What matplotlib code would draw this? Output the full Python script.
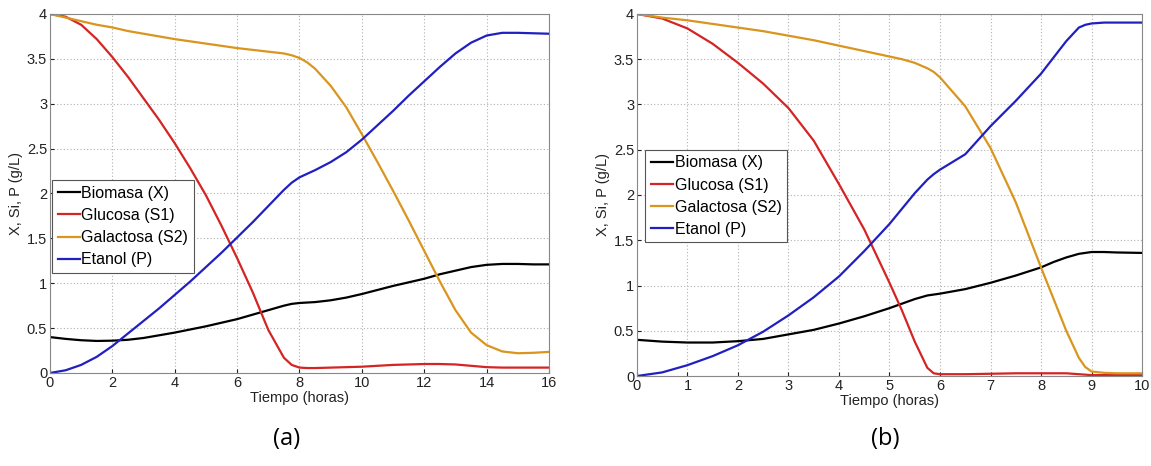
import matplotlib
matplotlib.use("Agg")
import matplotlib.pyplot as plt

# ---------------- data (a) ----------------
t_a = [0, 0.5, 1, 1.5, 2, 2.5, 3, 3.5, 4, 4.5, 5, 5.5, 6, 6.5, 7, 7.5, 7.75, 8,
       8.25, 8.5, 9, 9.5, 10, 10.5, 11, 11.5, 12, 12.5, 13, 13.5, 14, 14.5, 15,
       15.5, 16]
X_a = [0.40, 0.38, 0.365, 0.357, 0.36, 0.37, 0.39, 0.42, 0.45, 0.485, 0.52, 0.56,
       0.60, 0.65, 0.70, 0.75, 0.77, 0.78, 0.785, 0.79, 0.81, 0.84, 0.88, 0.925,
       0.97, 1.01, 1.05, 1.10, 1.14, 1.18, 1.205, 1.215, 1.215, 1.21, 1.21]
S1_a = [4.0, 3.97, 3.88, 3.72, 3.52, 3.30, 3.06, 2.82, 2.56, 2.28, 1.98, 1.64,
        1.28, 0.90, 0.48, 0.17, 0.09, 0.06, 0.055, 0.055, 0.06, 0.065, 0.07,
        0.08, 0.09, 0.095, 0.10, 0.10, 0.095, 0.08, 0.065, 0.06, 0.06, 0.06, 0.06]
S2_a = [4.0, 3.96, 3.92, 3.88, 3.85, 3.81, 3.78, 3.75, 3.72, 3.695, 3.67, 3.645,
        3.62, 3.60, 3.58, 3.56, 3.54, 3.51, 3.46, 3.39, 3.20, 2.96, 2.66, 2.35,
        2.03, 1.70, 1.36, 1.02, 0.70, 0.45, 0.31, 0.24, 0.22, 0.225, 0.235]
P_a = [0.0, 0.03, 0.09, 0.18, 0.30, 0.44, 0.58, 0.72, 0.87, 1.02, 1.18, 1.34,
       1.51, 1.68, 1.86, 2.04, 2.12, 2.18, 2.22, 2.26, 2.35, 2.46, 2.60, 2.76,
       2.92, 3.09, 3.25, 3.41, 3.56, 3.68, 3.76, 3.79, 3.79, 3.785, 3.78]

# ---------------- data (b) ----------------
t_b = [0, 0.5, 1, 1.5, 2, 2.5, 3, 3.5, 4, 4.5, 5, 5.25, 5.5, 5.75, 5.875, 6,
       6.5, 7, 7.5, 8, 8.25, 8.5, 8.75, 8.875, 9, 9.25, 9.5, 10]
X_b = [0.40, 0.38, 0.37, 0.37, 0.385, 0.41, 0.46, 0.51, 0.58, 0.66, 0.75, 0.80,
       0.85, 0.89, 0.90, 0.91, 0.96, 1.03, 1.11, 1.20, 1.26, 1.31, 1.35, 1.36,
       1.37, 1.37, 1.365, 1.36]
S1_b = [4.0, 3.95, 3.84, 3.67, 3.46, 3.23, 2.96, 2.60, 2.12, 1.62, 1.03, 0.72,
        0.38, 0.09, 0.03, 0.02, 0.02, 0.025, 0.03, 0.03, 0.03, 0.03, 0.02, 0.015,
        0.01, 0.01, 0.01, 0.01]
S2_b = [4.0, 3.96, 3.93, 3.89, 3.85, 3.81, 3.76, 3.71, 3.65, 3.59, 3.53, 3.50,
        3.46, 3.40, 3.36, 3.30, 2.98, 2.52, 1.92, 1.20, 0.85, 0.50, 0.20, 0.10,
        0.05, 0.035, 0.03, 0.03]
P_b = [0.0, 0.04, 0.12, 0.22, 0.34, 0.49, 0.67, 0.87, 1.10, 1.38, 1.68, 1.85,
       2.02, 2.17, 2.23, 2.28, 2.45, 2.76, 3.04, 3.34, 3.52, 3.70, 3.85, 3.88,
       3.895, 3.905, 3.905, 3.905]

labels = ["Biomasa (X)", "Glucosa (S1)", "Galactosa (S2)", "Etanol (P)"]
colors = ["#000000", "#d42424", "#d9951e", "#2020c0"]
xticks_a = [0, 2, 4, 6, 8, 10, 12, 14, 16]
xticks_b = [0, 1, 2, 3, 4, 5, 6, 7, 8, 9, 10]
yticks = [0, 0.5, 1, 1.5, 2, 2.5, 3, 3.5, 4]
ytick_labels = ["0", "0.5", "1", "1.5", "2", "2.5", "3", "3.5", "4"]

plt.rcParams['font.family'] = ['Liberation Sans', 'DejaVu Sans']

fig = plt.figure(figsize=(11.51, 4.66), dpi=100)
ax_a = fig.add_axes([0.0434, 0.1996, 0.4336, 0.7704])
ax_b = fig.add_axes([0.5534, 0.1931, 0.4388, 0.7769])


def style(ax, t, series, xticks, xmax, legend_anchor):
    for y, lab, c in zip(series, labels, colors):
        ax.plot(t, y, color=c, lw=1.6, label=lab, solid_joinstyle="round")
    ax.set_xlim(0, xmax)
    ax.set_ylim(0, 4)
    ax.set_xticks(xticks)
    ax.set_xticklabels([str(v) for v in xticks])
    ax.set_yticks(yticks)
    ax.set_yticklabels(ytick_labels)
    ax.grid(True, color="#b0b0b0", linestyle=(0, (1, 2)), linewidth=0.8)
    ax.tick_params(direction="in", length=3, labelsize=10.5, colors="#222222",
                   pad=2)
    for sp in ax.spines.values():
        sp.set_color("#888888")
        sp.set_linewidth(0.8)
    ax.set_xlabel("Tiempo (horas)", fontsize=10.5, color="#222222", labelpad=1)
    ax.set_ylabel("X, Si, P (g/L)", fontsize=10.5, color="#222222", labelpad=3)
    leg = ax.legend(loc="upper left", bbox_to_anchor=legend_anchor,
                    fontsize=11.5, handlelength=1.4, handletextpad=0.1,
                    borderpad=0.35, labelspacing=0.45, borderaxespad=0,
                    fancybox=False, framealpha=1)
    leg.get_frame().set_edgecolor("#555555")
    leg.get_frame().set_linewidth(0.8)


style(ax_a, t_a, [X_a, S1_a, S2_a, P_a], xticks_a, 16, (0.004, 0.537))
style(ax_b, t_b, [X_b, S1_b, S2_b, P_b], xticks_b, 10, (0.016, 0.625))

fig.text(0.249, 0.057, "(a)", fontsize=17, ha="center", va="center",
         family=["Open Sans", "DejaVu Sans"])
fig.text(0.769, 0.057, "(b)", fontsize=17, ha="center", va="center",
         family=["Open Sans", "DejaVu Sans"])

fig.savefig("out.png", dpi=100)
